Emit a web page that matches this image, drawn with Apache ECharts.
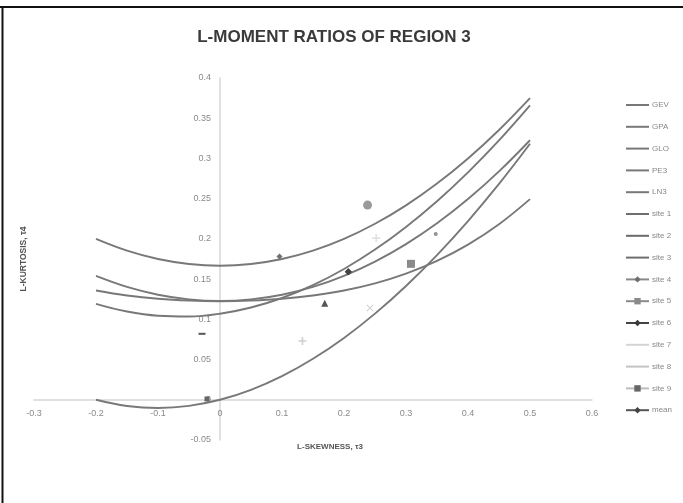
<!DOCTYPE html>
<html>
<head>
<meta charset="utf-8">
<script src="https://cdn.jsdelivr.net/npm/echarts@6/dist/echarts.min.js"></script>
<style>
html,body{margin:0;padding:0;background:#fff;}
#c{width:683px;height:503px;}
</style>
</head>
<body>
<div id="c"></div>
<script>
// L-skewness grid for theoretical curves
var tau3Grid = [-0.2,-0.15,-0.1,-0.05,0,0.05,0.1,0.15,0.2,0.25,0.3,0.35,0.4,0.45,0.5];
var gevT4 = [0.1193,0.1097,0.1045,0.1036,0.1070,0.1147,0.1265,0.1425,0.1626,0.1867,0.2148,0.2468,0.2827,0.3224,0.3659];
var gpaT4 = [0.0000,-0.0077,-0.0102,-0.0076,0.0000,0.0124,0.0294,0.0510,0.0769,0.1071,0.1415,0.1799,0.2222,0.2683,0.3182];
var gloT4 = [0.2000,0.1854,0.1750,0.1688,0.1667,0.1688,0.1750,0.1854,0.2000,0.2188,0.2417,0.2688,0.3000,0.3354,0.3750];
var pe3T4 = [0.1359,0.1297,0.1255,0.1232,0.1224,0.1232,0.1255,0.1297,0.1359,0.1448,0.1569,0.1727,0.1929,0.2182,0.2494];
var ln3T4 = [0.1540,0.1403,0.1306,0.1248,0.1228,0.1248,0.1306,0.1403,0.1540,0.1717,0.1935,0.2194,0.2495,0.2839,0.3226];

// Site sample L-moment ratios
var siteNames = ['site 1','site 2','site 3','site 4','site 5','site 6','site 7','site 8','site 9','mean'];
var siteT3 = [-0.029,0.238,0.169,0.096,0.308,0.207,0.133,0.242,-0.021,0.207];
var siteT4 = [0.082,0.242,0.120,0.178,0.169,0.159,0.073,0.114,0.001,0.159];
var extraT3 = [0.348,0.252];
var extraT4 = [0.206,0.201];

var xTicks = [-0.3,-0.2,-0.1,0,0.1,0.2,0.3,0.4,0.5,0.6];
var yTicks = [-0.05,0,0.05,0.1,0.15,0.2,0.25,0.3,0.35,0.4];

function zip(xs, ys){ return xs.map(function(x,i){ return [x, ys[i]]; }); }

var curveNames = ['GEV','GPA','GLO','PE3','LN3'];
var curveVals = [gevT4,gpaT4,gloT4,pe3T4,ln3T4];
var curveColor = '#787878';

var series = [];
curveNames.forEach(function(n,i){
  series.push({
    name:n, type:'line', smooth:0.4, showSymbol:false, symbol:'none',
    data: zip(tau3Grid, curveVals[i]),
    lineStyle:{color:curveColor, width:1.9},
    itemStyle:{color:curveColor},
    z:3
  });
});

var plus = 'path://M4,0 L6,0 L6,4 L10,4 L10,6 L6,6 L6,10 L4,10 L4,6 L0,6 L0,4 L4,4 Z';
var xmark = 'path://M1,0 L5,4 L9,0 L10,1 L6,5 L10,9 L9,10 L5,6 L1,10 L0,9 L4,5 L0,1 Z';
var siteStyle = [
  {sym:'rect', size:[7,2], color:'#555555', line:'#6e6e6e', legendMark:false},
  {sym:'circle', size:9, color:'#9a9a9a', line:'#6a6a6a', legendMark:false},
  {sym:'triangle', size:7, color:'#555555', line:'#6e6e6e', legendMark:false},
  {sym:'diamond', size:6, color:'#707070', line:'#8a8a8a', legendMark:true},
  {sym:'rect', size:8, color:'#8a8a8a', line:'#8a8a8a', legendMark:true},
  {sym:'diamond', size:7, color:'#3a3a3a', line:'#444444', legendMark:true},
  {sym:plus, size:8, color:'#cfcfcf', line:'#d4d4d4', legendMark:false},
  {sym:xmark, size:7, color:'#d0d0d0', line:'#c4c4c4', legendMark:false},
  {sym:'rect', size:5, color:'#666666', line:'#bdbdbd', legendMark:true},
  {sym:'diamond', size:7, color:'#444444', line:'#555555', legendMark:true}
];
siteNames.forEach(function(n,i){
  var s = siteStyle[i];
  series.push({
    name:n, type:'line', showSymbol:true, symbol:s.sym, symbolSize:s.size,
    data: [[siteT3[i], siteT4[i]]],
    lineStyle:{color:s.line, width:2},
    itemStyle:{color:s.color},
    z:4
  });
});
series.push({
  name:'extra', type:'scatter', symbol:'circle', symbolSize:[4,4],
  data: [[extraT3[0], extraT4[0]]], itemStyle:{color:'#777'}, z:4
});
series.push({
  name:'extra2', type:'scatter', symbol:plus, symbolSize:8,
  data: [[extraT3[1], extraT4[1]]], itemStyle:{color:'#dadada'}, z:4
});

var legendData = curveNames.map(function(n){ return {name:n, itemStyle:{opacity:0}}; }).concat(
  siteNames.map(function(n,i){
    var s = siteStyle[i];
    var d = {name:n};
    if(!s.legendMark){ d.itemStyle = {opacity:0}; }
    else { d.symbolSize = 6; }
    return d;
  })
);

// plot geometry: grid spans x -0.3..0.6 and y -0.05..0.4
var gLeft = 34, gRight = 91, gTop = 78, gBottom = 63;
var gW = 683 - gLeft - gRight, gH = 503 - gTop - gBottom;
var xZeroFromLeft = gW * (0 - (-0.3)) / (0.6 - (-0.3));
var yZeroFromBottom = gH * (0 - (-0.05)) / (0.4 - (-0.05));

var chart = echarts.init(document.getElementById('c'), null, {renderer:'canvas'});
chart.setOption({
  animation:false,
  backgroundColor:'#ffffff',
  title:{
    text:'L-MOMENT RATIOS OF REGION 3', left:329, top:24, textAlign:'center',
    textStyle:{fontFamily:'Liberation Sans', fontSize:17, fontWeight:'bold', color:'#3a3a3a'}
  },
  grid:{left:gLeft, right:gRight, top:gTop, bottom:gBottom, containLabel:false, outerBoundsMode:'none'},
  legend:{
    data:legendData, orient:'vertical', left:625, top:101, padding:0,
    itemWidth:23, itemHeight:8, itemGap:13.8,
    textStyle:{fontFamily:'Liberation Sans', fontSize:8, color:'#888888', padding:[0,0,0,-2]}
  },
  xAxis:{
    type:'value', min:-0.3, max:0.6, interval:0.1,
    offset: -yZeroFromBottom,
    axisLine:{onZero:false, lineStyle:{color:'#d6d6d6', width:1.5}},
    axisTick:{show:false}, splitLine:{show:false},
    axisLabel:{fontFamily:'Liberation Sans', fontSize:9, color:'#8a8a8a', margin:9,
      formatter:function(v){ return String(Math.round(v*10)/10); }},
    name:'L-SKEWNESS, τ3', nameLocation:'middle', nameGap:43,
    nameTextStyle:{fontFamily:'Liberation Sans', fontSize:8, fontWeight:'bold', color:'#555', padding:[0,0,0,34]}
  },
  yAxis:{
    type:'value', min:-0.05, max:0.4, interval:0.05,
    offset: -xZeroFromLeft,
    axisLine:{onZero:false, lineStyle:{color:'#d6d6d6', width:1.5}},
    axisTick:{show:false}, splitLine:{show:false},
    axisLabel:{fontFamily:'Liberation Sans', fontSize:9, color:'#8a8a8a', margin:9,
      formatter:function(v){ return String(Math.round(v*100)/100); }},
    name:'L-KURTOSIS, τ4', nameLocation:'middle', nameGap:192, nameRotate:90,
    nameTextStyle:{fontFamily:'Liberation Sans', fontSize:8.5, fontWeight:'bold', color:'#555'}
  },
  graphic:[
    {type:'line', shape:{x1:0, y1:7, x2:683, y2:7}, style:{stroke:'#111', lineWidth:2}},
    {type:'line', shape:{x1:2.5, y1:7, x2:2.5, y2:503}, style:{stroke:'#111', lineWidth:2}}
  ],
  series:series
});
</script>
</body>
</html>
